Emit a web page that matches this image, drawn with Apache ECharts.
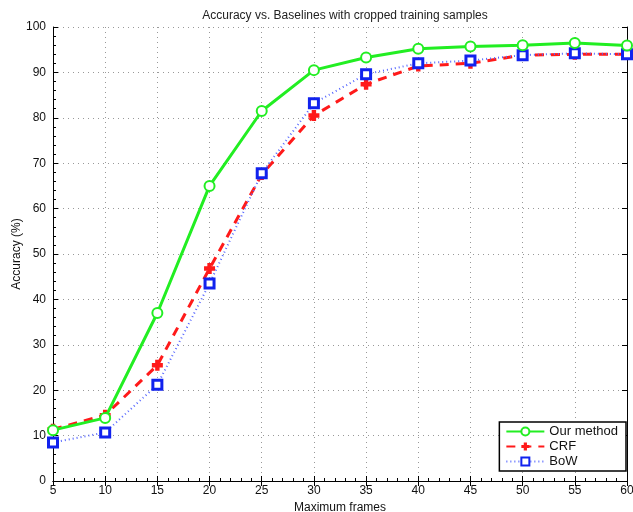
<!DOCTYPE html>
<html>
<head>
<meta charset="utf-8">
<script src="https://cdn.jsdelivr.net/npm/echarts@6/dist/echarts.min.js"></script>
<style>
html, body { margin: 0; padding: 0; background: #fff; }
#chart { width: 633px; height: 512px; }
</style>
</head>
<body>
<div id="chart"></div>
<script>
// max frames on the x axis
var frames = [5, 10, 15, 20, 25, 30, 35, 40, 45, 50, 55, 60];
// accuracy (%) per method
var ourMethod = [11.2, 13.9, 37.0, 65.0, 81.5, 90.5, 93.3, 95.2, 95.7, 96.0, 96.5, 95.9];
var crf = [11.4, 14.5, 25.5, 46.8, 67.5, 80.5, 87.4, 91.4, 92.0, 93.8, 94.0, 94.0];
var bow = [8.5, 10.7, 21.2, 43.5, 67.8, 83.2, 89.6, 92.0, 92.6, 93.8, 94.2, 94.0];

function pairs(ys) {
    return frames.map(function (x, i) { return [x, ys[i]]; });
}

var font = "'Liberation Sans', Arial, sans-serif";
var plusPath = "path://M3,0H7V3H10V7H7V10H3V7H0V3H3Z";

var chart = echarts.init(document.getElementById("chart"));
var gridLine = { show: true, lineStyle: { color: "#999", width: 1, type: [1, 4] } };
chart.setOption({
    animation: false,
    title: {
        text: "Accuracy vs. Baselines with cropped training samples",
        left: 340, top: 5, textAlign: "center",
        textStyle: { fontFamily: font, fontSize: 12, fontWeight: "normal", color: "#222" }
    },
    grid: { left: 53, right: 6, top: 27, bottom: 31, outerBoundsMode: "none", containLabel: false },
    xAxis: [{
        type: "value", min: 5, max: 60, interval: 5,
        name: "Maximum frames", nameLocation: "middle", nameGap: 20,
        nameTextStyle: { fontFamily: font, fontSize: 12, color: "#111" },
        axisLine: { lineStyle: { color: "#000", width: 1 } },
        axisTick: { inside: true, length: 5, lineStyle: { color: "#000" } },
        minorTick: { show: true, splitNumber: 5, length: 3, lineStyle: { color: "#000" } },
        axisLabel: { fontFamily: font, fontSize: 12, color: "#111", margin: 4 },
        splitLine: gridLine
    }, {
        type: "value", min: 5, max: 60, interval: 5, position: "top",
        axisLine: { lineStyle: { color: "#000", width: 1 } },
        axisTick: { inside: true, length: 5, lineStyle: { color: "#000" } },
        axisLabel: { show: false }, splitLine: { show: false }
    }],
    yAxis: [{
        type: "value", min: 0, max: 100, interval: 10,
        name: "Accuracy (%)", nameLocation: "middle", nameGap: 30, nameMoveOverlap: false,
        nameTextStyle: { fontFamily: font, fontSize: 12, color: "#111" },
        axisLine: { show: true, lineStyle: { color: "#000", width: 1 } },
        axisTick: { show: true, inside: true, length: 5, lineStyle: { color: "#000" } },
        minorTick: { show: true, splitNumber: 5, length: 3, lineStyle: { color: "#000" } },
        axisLabel: { fontFamily: font, fontSize: 12, color: "#111", margin: 7 },
        splitLine: gridLine
    }, {
        type: "value", min: 0, max: 100, interval: 10, position: "right",
        axisLine: { show: true, lineStyle: { color: "#000", width: 1 } },
        axisTick: { show: true, inside: true, length: 5, lineStyle: { color: "#000" } },
        axisLabel: { show: false }, splitLine: { show: false }
    }],
    legend: {
        orient: "vertical", right: 7, top: 422,
        itemWidth: 38, itemHeight: 10, itemGap: 2,
        padding: [3, 8, 3, 6],
        borderColor: "#000", borderWidth: 1.5, borderRadius: 0,
        backgroundColor: "#fff",
        textStyle: { fontFamily: font, fontSize: 13, color: "#111" },
        data: ["Our method", "CRF", "BoW"]
    },
    series: [{
        name: "Our method", type: "line", data: pairs(ourMethod),
        symbol: "circle", symbolSize: 10,
        lineStyle: { color: "#22ee22", width: 3 },
        itemStyle: { color: "#fff", borderColor: "#22ee22", borderWidth: 2 },
        z: 5
    }, {
        name: "CRF", type: "line", data: pairs(crf),
        symbol: plusPath, symbolSize: 11,
        lineStyle: { color: "#ff1a1a", width: 3, type: [9, 7] },
        itemStyle: { color: "#ff1a1a" },
        z: 3
    }, {
        name: "BoW", type: "line", data: pairs(bow),
        symbol: "rect", symbolSize: 9,
        lineStyle: { color: "#5566ff", width: 2, type: [1, 3] },
        itemStyle: { color: "#fff", borderColor: "#1122ee", borderWidth: 3 },
        z: 4
    }]
});
</script>
</body>
</html>
